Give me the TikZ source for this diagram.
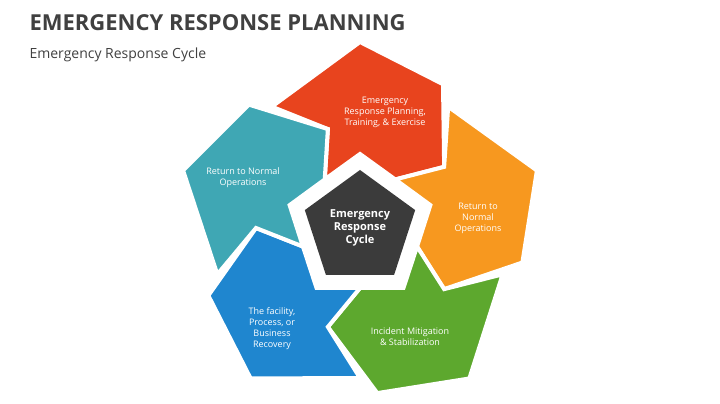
\documentclass[tikz,border=0pt]{standalone}
\usepackage{fontspec}
\setmainfont{Open Sans}
\usetikzlibrary{calc}

\definecolor{segred}{HTML}{E8441E}
\definecolor{segorange}{HTML}{F7981F}
\definecolor{seggreen}{HTML}{5DA82E}
\definecolor{segblue}{HTML}{1F86CF}
\definecolor{segteal}{HTML}{3FA7B4}
\definecolor{hubgray}{HTML}{3B3B3B}
\definecolor{titlegray}{HTML}{404040}

% one arrow segment of the cycle, centred on angle #1
\newcommand{\cycleseg}[2]{%
  \fill[#2, draw=white, line width=4pt, line join=miter]
    ($(c)+(#1+36:150)$) -- ($(c)+(#1:186)$) -- ($(c)+(#1-30:166)$)
    -- ($(c)+(#1-54:104)$) -- ($(c)+(#1-36:60)$) -- ($(c)+(#1:74)$)
    -- ($(c)+(#1+36:60)$) -- ($(c)+(#1+18:104)$) -- cycle;}

\tikzset{
  seglabel/.style={text=white, align=center, font=\fontsize{9}{11}\selectfont},
}

\begin{document}
\begin{tikzpicture}[x=1pt, y=1pt]
\useasboundingbox (0,0) rectangle (720,404);

\node[anchor=west, text=titlegray, font=\fontsize{22}{24}\selectfont\bfseries] (title) at (26,381) {EMERGENCY RESPONSE PLANNING};
\node[anchor=west, text=titlegray, font=\fontsize{14}{16}\selectfont] (subtitle) at (26,349) {Emergency Response Cycle};

\coordinate (c) at (360,176);

% segments
\cycleseg{90}{segred}
\cycleseg{18}{segorange}
\cycleseg{-54}{seggreen}
\cycleseg{-126}{segblue}
\cycleseg{162}{segteal}

% hub
\fill[hubgray] ($(c)+(90:58)$) -- ($(c)+(18:58)$) -- ($(c)+(-54:58)$) -- ($(c)+(-126:58)$) -- ($(c)+(162:58)$) -- cycle;
\node[seglabel, font=\fontsize{11}{13}\selectfont\bfseries] (hub) at (360,176) {Emergency\\Response\\Cycle};

% labels
\node[seglabel] (plan) at (385,292) {Emergency\\Response Planning,\\Training, \& Exercise};
\node[seglabel] (normal) at (478,186) {Return to\\Normal\\Operations};
\node[seglabel] (mitig) at (410,67) {Incident Mitigation\\\& Stabilization};
\node[seglabel] (recov) at (272,75) {The facility,\\Process, or\\Business\\Recovery};
\node[seglabel] (back) at (243,226) {Return to Normal\\Operations};
\end{tikzpicture}
\end{document}
